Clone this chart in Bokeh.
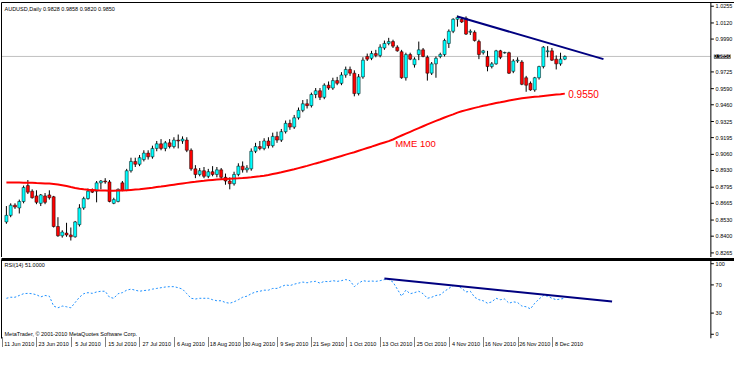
from bokeh.plotting import figure
from bokeh.models import Range1d, LinearAxis, FixedTicker, Label, Span, ColumnDataSource
from bokeh.core.properties import value
from bokeh.layouts import column
from bokeh.embed import file_html
from bokeh.resources import INLINE

symbol = "AUDUSD,Daily"

date_labels = ["11 Jun 2010", "23 Jun 2010", "5 Jul 2010", "15 Jul 2010", "27 Jul 2010", "6 Aug 2010",
               "18 Aug 2010", "30 Aug 2010", "9 Sep 2010", "21 Sep 2010", "1 Oct 2010", "13 Oct 2010",
               "25 Oct 2010", "4 Nov 2010", "16 Nov 2010", "26 Nov 2010", "8 Dec 2010"]
date_label_bars = [0, 8, 16, 24, 32, 40, 48, 56, 64, 72, 80, 88, 96, 104, 112, 120, 128]

opens = [0.8515, 0.8568, 0.8650, 0.8628, 0.8680, 0.8808, 0.8763, 0.8725, 0.8665, 0.8725,
         0.8733, 0.8718, 0.8478, 0.8403, 0.8425, 0.8410, 0.8395, 0.8493, 0.8628, 0.8703,
         0.8770, 0.8763, 0.8830, 0.8845, 0.8838, 0.8665, 0.8680, 0.8830, 0.8770, 0.8928,
         0.9003, 0.8980, 0.9018, 0.9070, 0.9040, 0.9108, 0.9145, 0.9108, 0.9153, 0.9123,
         0.9175, 0.9168, 0.9175, 0.9093, 0.8943, 0.8898, 0.8928, 0.8883, 0.8920, 0.8898,
         0.8935, 0.8875, 0.8845, 0.8823, 0.8898, 0.8965, 0.8935, 0.8943, 0.9085, 0.9123,
         0.9108, 0.9168, 0.9130, 0.9205, 0.9175, 0.9243, 0.9310, 0.9280, 0.9355, 0.9415,
         0.9468, 0.9453, 0.9543, 0.9573, 0.9520, 0.9618, 0.9595, 0.9655, 0.9633, 0.9700,
         0.9745, 0.9715, 0.9550, 0.9685, 0.9850, 0.9835, 0.9873, 0.9858, 0.9918, 0.9955,
         0.9970, 0.9925, 0.9888, 0.9678, 0.9865, 0.9783, 0.9865, 0.9903, 0.9843, 0.9715,
         0.9790, 0.9850, 0.9865, 0.9955, 1.0053, 1.0150, 1.0150, 1.0158, 1.0045, 1.0045,
         0.9970, 0.9880, 0.9850, 0.9768, 0.9790, 0.9895, 0.9878, 0.9880, 0.9730, 0.9813,
         0.9805, 0.9678, 0.9633, 0.9580, 0.9678, 0.9768, 0.9888, 0.9895, 0.9828, 0.9790,
         0.9828]
highs = [0.8643, 0.8665, 0.8665, 0.8695, 0.8808, 0.8853, 0.8778, 0.8770, 0.8740, 0.8748,
         0.8770, 0.8725, 0.8553, 0.8448, 0.8508, 0.8470, 0.8523, 0.8658, 0.8718, 0.8785,
         0.8785, 0.8845, 0.8853, 0.8868, 0.8853, 0.8710, 0.8785, 0.8845, 0.8943, 0.9033,
         0.9033, 0.9055, 0.9093, 0.9093, 0.9130, 0.9168, 0.9183, 0.9168, 0.9183, 0.9198,
         0.9220, 0.9205, 0.9198, 0.9108, 0.8973, 0.8950, 0.8958, 0.8943, 0.8965, 0.8958,
         0.8950, 0.8905, 0.8875, 0.8920, 0.8988, 0.9003, 0.8973, 0.9108, 0.9153, 0.9168,
         0.9190, 0.9198, 0.9235, 0.9243, 0.9265, 0.9333, 0.9340, 0.9378, 0.9438, 0.9498,
         0.9505, 0.9558, 0.9595, 0.9595, 0.9633, 0.9648, 0.9678, 0.9685, 0.9723, 0.9768,
         0.9768, 0.9738, 0.9708, 0.9843, 0.9873, 0.9895, 0.9903, 0.9948, 0.9978, 1.0000,
         0.9985, 0.9940, 0.9903, 0.9880, 0.9880, 0.9843, 0.9970, 0.9918, 0.9858, 0.9805,
         0.9850, 0.9880, 0.9993, 1.0068, 1.0158, 1.0180, 1.0165, 1.0173, 1.0068, 1.0060,
         0.9985, 0.9903, 0.9895, 0.9805, 0.9903, 0.9903, 0.9888, 0.9888, 0.9828, 0.9843,
         0.9820, 0.9693, 0.9648, 0.9685, 0.9775, 0.9933, 0.9933, 0.9918, 0.9858, 0.9880,
         0.9858]
lows = [0.8500, 0.8553, 0.8620, 0.8583, 0.8665, 0.8740, 0.8703, 0.8658, 0.8643, 0.8658,
        0.8695, 0.8470, 0.8395, 0.8388, 0.8395, 0.8365, 0.8388, 0.8478, 0.8613, 0.8695,
        0.8748, 0.8673, 0.8778, 0.8823, 0.8673, 0.8658, 0.8673, 0.8763, 0.8763, 0.8913,
        0.8958, 0.8965, 0.9003, 0.9018, 0.9025, 0.9085, 0.9093, 0.9085, 0.9108, 0.9108,
        0.9108, 0.9145, 0.9078, 0.8928, 0.8868, 0.8883, 0.8868, 0.8868, 0.8883, 0.8875,
        0.8853, 0.8815, 0.8778, 0.8808, 0.8883, 0.8913, 0.8913, 0.8928, 0.9070, 0.9093,
        0.9093, 0.9108, 0.9115, 0.9153, 0.9160, 0.9228, 0.9258, 0.9265, 0.9340, 0.9400,
        0.9430, 0.9438, 0.9513, 0.9498, 0.9505, 0.9580, 0.9580, 0.9618, 0.9618, 0.9678,
        0.9693, 0.9528, 0.9535, 0.9670, 0.9813, 0.9820, 0.9843, 0.9843, 0.9903, 0.9940,
        0.9918, 0.9888, 0.9670, 0.9655, 0.9820, 0.9760, 0.9820, 0.9843, 0.9655, 0.9700,
        0.9678, 0.9835, 0.9850, 0.9918, 1.0038, 1.0090, 1.0120, 1.0023, 1.0023, 0.9970,
        0.9828, 0.9865, 0.9730, 0.9753, 0.9783, 0.9828, 0.9873, 0.9708, 0.9715, 0.9798,
        0.9618, 0.9565, 0.9573, 0.9565, 0.9663, 0.9753, 0.9843, 0.9813, 0.9745, 0.9775,
        0.9820]
closes = [0.8568, 0.8650, 0.8635, 0.8680, 0.8793, 0.8755, 0.8710, 0.8673, 0.8733, 0.8673,
          0.8710, 0.8478, 0.8403, 0.8433, 0.8410, 0.8395, 0.8515, 0.8628, 0.8703, 0.8763,
          0.8755, 0.8830, 0.8845, 0.8838, 0.8680, 0.8695, 0.8778, 0.8770, 0.8928, 0.9003,
          0.8980, 0.9033, 0.9070, 0.9040, 0.9108, 0.9145, 0.9108, 0.9153, 0.9123, 0.9175,
          0.9168, 0.9183, 0.9093, 0.8943, 0.8898, 0.8928, 0.8883, 0.8920, 0.8898, 0.8935,
          0.8875, 0.8845, 0.8823, 0.8898, 0.8965, 0.8935, 0.8950, 0.9085, 0.9123, 0.9108,
          0.9168, 0.9130, 0.9205, 0.9175, 0.9243, 0.9310, 0.9280, 0.9355, 0.9415, 0.9468,
          0.9453, 0.9543, 0.9573, 0.9520, 0.9618, 0.9595, 0.9655, 0.9633, 0.9700, 0.9745,
          0.9715, 0.9550, 0.9685, 0.9820, 0.9828, 0.9873, 0.9858, 0.9925, 0.9955, 0.9970,
          0.9933, 0.9895, 0.9678, 0.9865, 0.9828, 0.9828, 0.9903, 0.9850, 0.9715, 0.9790,
          0.9835, 0.9865, 0.9978, 1.0053, 1.0150, 1.0165, 1.0128, 1.0030, 1.0053, 0.9978,
          0.9865, 0.9895, 0.9768, 0.9790, 0.9895, 0.9843, 0.9882, 0.9715, 0.9813, 0.9820,
          0.9625, 0.9618, 0.9580, 0.9678, 0.9768, 0.9925, 0.9895, 0.9820, 0.9790, 0.9828,
          0.9850]

mme100 = [0.8834, 0.8834, 0.8833, 0.8832, 0.8831, 0.8830, 0.8830, 0.8828, 0.8827, 0.8825, 0.8824,
          0.8821, 0.8817, 0.8811, 0.8804, 0.8796, 0.8789,
          0.8783, 0.8778, 0.8774, 0.8772, 0.8770, 0.8769,
          0.8768, 0.8767, 0.8767, 0.8768, 0.8769, 0.8770, 0.8773, 0.8776,
          0.8779, 0.8783, 0.8787, 0.8791, 0.8796, 0.8800, 0.8805, 0.8810, 0.8815, 0.8820,
          0.8825, 0.8830, 0.8835, 0.8839, 0.8844, 0.8847, 0.8851, 0.8854, 0.8857, 0.8860,
          0.8862, 0.8864, 0.8866, 0.8867, 0.8869,
          0.8872, 0.8875, 0.8879, 0.8883, 0.8888,
          0.8894, 0.8901, 0.8908, 0.8915, 0.8924, 0.8932, 0.8940, 0.8949, 0.8958, 0.8967,
          0.8977, 0.8987, 0.8996, 0.9006, 0.9016, 0.9026, 0.9037, 0.9047, 0.9058, 0.9068,
          0.9077, 0.9089, 0.9100, 0.9111, 0.9122, 0.9134, 0.9145, 0.9156, 0.9167, 0.9180,
          0.9197, 0.9212, 0.9227, 0.9242, 0.9257, 0.9272, 0.9287, 0.9302, 0.9316, 0.9330,
          0.9343, 0.9357, 0.9370, 0.9383, 0.9397,
          0.9408, 0.9417, 0.9426, 0.9435, 0.9443, 0.9452, 0.9459, 0.9467, 0.9474, 0.9480,
          0.9487, 0.9494, 0.9500, 0.9506, 0.9512,
          0.9516, 0.9520, 0.9524, 0.9527, 0.9531, 0.9535, 0.9539, 0.9542, 0.9545, 0.9550]

rsi14 = [51, 52.5, 52.5, 55, 57.5, 58, 57.5, 56, 53, 55,
         54, 40, 37.5, 40, 39, 37.5, 45, 52.5, 57.5, 59,
         58, 60, 61, 61, 52.5, 51, 57.5, 59, 62.5, 64,
         62.5, 61, 62, 62.5, 64, 65, 66, 67, 67.5, 67.5,
         66, 64, 57.5, 51, 50, 51, 51, 51, 49, 47.5,
         47.5, 45, 44, 46, 49, 52.5, 54, 57.5, 60, 61,
         62.5, 62.5, 65, 65, 67.5, 70, 69, 71, 72.5, 74,
         73, 74.5, 75, 72.5, 75, 74.5, 76, 75, 76, 77.5,
         76, 67.5, 72.5, 76, 75, 75.5, 75, 76, 77.5, 77.5,
         74, 64, 54, 62.5, 57.5, 59, 61, 57.5, 51, 52.5,
         55, 56, 61, 65, 69, 69, 65, 60, 61, 52.5,
         49, 47.5, 44, 46, 51, 49, 50, 44, 46, 45,
         40, 39, 36, 44, 50, 55, 54, 51, 49, 50, 51]

price_ticks = [1.0255, 1.0120, 0.9990, 0.9725, 0.9590, 0.9460, 0.9325, 0.9195,
               0.9060, 0.8930, 0.8795, 0.8665, 0.8530, 0.8400, 0.8265]
rsi_ticks = [0, 30, 70, 100]

trend_bars = [105, 139]
trend_prices = [1.0172, 0.9828]
rsi_trend_bars = [88, 141]
rsi_trend_values = [79, 46.5]

BULL = "#00FFFF"
BEAR = "#FF0000"
FONT = "Liberation Sans"
SMALL = "5.5px"

n = len(closes)
idx = list(range(n))
src = ColumnDataSource(dict(
    x=idx, h=highs, l=lows,
    top=[max(o, c) for o, c in zip(opens, closes)],
    bottom=[min(o, c) for o, c in zip(opens, closes)],
    color=[BULL if c >= o else BEAR for o, c in zip(opens, closes)],
))

# price-scale boundary (the chart's right axis) in bar units; frame extends past it for labels
axis_x = 164.0
xr = Range1d(-1.14, 169.5)
yr = Range1d(0.8228, 1.0285)
rr = Range1d(-6, 106)


def border_axis(width=1):
    return LinearAxis(ticker=FixedTicker(ticks=[]), axis_line_color="black", axis_line_width=width,
                      major_tick_out=0, major_tick_in=0, minor_tick_out=0, minor_tick_in=0,
                      major_label_standoff=0, major_label_text_font_size="0px")


p1 = figure(width=734, height=257, x_range=xr, y_range=yr, output_backend="svg",
            toolbar_location=None, x_axis_location=None, y_axis_location=None,
            min_border_left=1, min_border_right=0, min_border_top=2, min_border_bottom=0,
            outline_line_color=None, background_fill_color="white", border_fill_color="white")
p1.grid.visible = False
p1.add_layout(border_axis(), "left")
p1.add_layout(border_axis(), "above")

# right price scale
p1.add_layout(Span(location=axis_x, dimension="height", line_color="black", line_width=1))
p1.segment(x0=[axis_x] * len(price_ticks), y0=price_ticks, x1=[axis_x + 0.7] * len(price_ticks),
           y1=price_ticks, line_color="black", line_width=1)
p1.text(x=[axis_x + 1.1] * len(price_ticks), y=price_ticks, text=[f"{t:.4f}" for t in price_ticks],
        text_baseline="middle", text_align="left", text_font=value(FONT),
        text_font_size=value(SMALL), text_color="black")

# current price line, up to the price scale
p1.segment(x0=[xr.start], y0=[closes[-1]], x1=[axis_x], y1=[closes[-1]], line_color="#C0C0C0", line_width=1)
p1.segment(x0="x", y0="l", x1="x", y1="h", source=src, line_color="black", line_width=1)
p1.vbar(x="x", width=0.7, top="top", bottom="bottom", fill_color="color",
        line_color="black", line_width=0.5, source=src)
p1.line(idx, mme100, line_color="#FF0000", line_width=2)
p1.line(trend_bars, trend_prices, line_color="#000080", line_width=2)

header = f"{symbol}  {opens[-1]:.4f} {highs[-1]:.4f} {lows[-1]:.4f} {closes[-1]:.4f}"
p1.add_layout(Label(x=xr.start, y=yr.end, x_offset=3, y_offset=-3, text=header,
                    text_baseline="top", text_font_size=SMALL, text_font=FONT, text_color="black"))
p1.add_layout(Label(x=90.5, y=0.9150, text="MME 100", text_baseline="middle",
                    text_font_size="9.5px", text_font=FONT, text_color="#FF0000"))
p1.add_layout(Label(x=n - 1 + 0.8, y=mme100[-1], text=f"{mme100[-1]:.4f}", text_baseline="middle",
                    text_font_size="10px", text_font=FONT, text_color="#FF0000"))
p1.add_layout(Label(x=axis_x, y=closes[-1], x_offset=3, text=f"{closes[-1]:.4f}", text_baseline="middle",
                    text_font_size=SMALL, text_font=FONT, text_color="white",
                    background_fill_color="black"))

p2 = figure(width=734, height=92, x_range=xr, y_range=rr, output_backend="svg",
            toolbar_location=None, x_axis_location=None, y_axis_location=None,
            min_border_left=1, min_border_right=0, min_border_top=2, min_border_bottom=0,
            outline_line_color=None, background_fill_color="white", border_fill_color="white")
p2.grid.visible = False
p2.add_layout(border_axis(), "left")
p2.add_layout(border_axis(3), "above")

bax = LinearAxis(ticker=FixedTicker(ticks=[b + 3 for b in date_label_bars],
                                    minor_ticks=[b - 0.9 for b in date_label_bars]),
                 major_label_overrides={b + 3: lab for b, lab in zip(date_label_bars, date_labels)},
                 axis_line_color=None, major_tick_out=0, major_tick_in=0,
                 minor_tick_out=8, minor_tick_in=2, minor_tick_line_color="black",
                 minor_tick_line_dash="1 1", major_label_standoff=-6,
                 major_label_text_font_size=SMALL, major_label_text_font=FONT,
                 major_label_text_color="black")
p2.add_layout(bax, "below")

p2.add_layout(Span(location=axis_x, dimension="height", line_color="black", line_width=1))
p2.segment(x0=[axis_x] * len(rsi_ticks), y0=rsi_ticks, x1=[axis_x + 0.7] * len(rsi_ticks),
           y1=rsi_ticks, line_color="black", line_width=1)
p2.text(x=[axis_x + 1.1] * len(rsi_ticks), y=rsi_ticks, text=[str(t) for t in rsi_ticks],
        text_baseline="middle", text_align="left", text_font=value(FONT),
        text_font_size=value(SMALL), text_color="black")

p2.line(idx, rsi14, line_color="#1E90FF", line_width=1, line_dash="2 2")
p2.line(rsi_trend_bars, rsi_trend_values, line_color="#000080", line_width=2)
p2.add_layout(Label(x=xr.start, y=rr.end, x_offset=3, y_offset=-2, text=f"RSI(14) {rsi14[-1]:.4f}",
                    text_baseline="top", text_font_size=SMALL, text_font=FONT, text_color="black"))
p2.add_layout(Label(x=xr.start, y=rr.start, x_offset=3, y_offset=2,
                    text="MetaTrader, \u00a9 2001-2010 MetaQuotes Software Corp.",
                    text_baseline="bottom", text_font_size=SMALL, text_font=FONT, text_color="black"))

layout = column(p1, p2, spacing=0)
open("out.html", "w").write(file_html(layout, INLINE))
